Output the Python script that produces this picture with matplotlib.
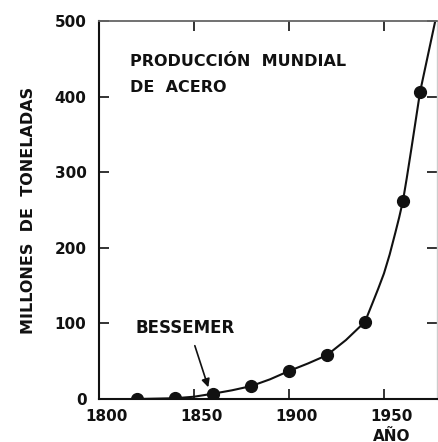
import numpy as np
import matplotlib
matplotlib.use("Agg")
import matplotlib.pyplot as plt
from matplotlib.transforms import ScaledTranslation, blended_transform_factory

# measured points (year, million tonnes)
years = [1820, 1840, 1860, 1880, 1900, 1920, 1940, 1960, 1969]
prod = [0, 1, 7, 17, 37, 58, 102, 262, 406]

# the drawn curve
curve_years = [1820, 1840, 1850, 1860, 1870, 1880, 1890, 1900, 1910, 1920,
               1930, 1940, 1944, 1947, 1950, 1953, 1956, 1958, 1960, 1962,
               1964.5, 1969, 1973, 1977]
curve_prod = [0, 1, 3, 7, 11.5, 17, 26, 37, 47, 58,
              78, 102, 127, 146, 166, 191, 220, 240, 262, 292,
              332, 406, 453, 500]

xticks = [1800, 1850, 1900, 1950]
yticks = [0, 100, 200, 300, 400, 500]

plt.rcParams['font.family'] = ['DejaVu Sans']
plt.rcParams['font.weight'] = 'bold'
ink = '#111111'

fig = plt.figure(figsize=(4.38, 4.42), dpi=100)
ax = fig.add_axes([0.226, 0.0973, 0.772, 0.855])

ax.plot(curve_years, curve_prod, color=ink, lw=1.5, solid_joinstyle='round')
ax.plot(years, prod, 'o', color=ink, ms=8.5)

ax.set_xlim(1800, 1978)
ax.set_ylim(0, 500)
ax.set_xticks(xticks)
ax.set_yticks(yticks)
ax.tick_params(direction='in', length=7, width=1.2, colors=ink,
               top=True, right=True, labelsize=11)
ax.tick_params(axis='y', pad=9)
ax.tick_params(axis='x', pad=7)
off = ScaledTranslation(8 / 100, 0, fig.dpi_scale_trans)
for lbl in ax.get_xticklabels():
    lbl.set_transform(lbl.get_transform() + off)

for s in ['left', 'bottom']:
    ax.spines[s].set_linewidth(1.5)
    ax.spines[s].set_color(ink)
ax.spines['top'].set_linewidth(1.3)
ax.spines['top'].set_color('#666666')
ax.spines['right'].set_linewidth(1.0)
ax.spines['right'].set_color('#cccccc')

ax.set_ylabel('MILLONES  DE  TONELADAS', fontsize=11.5, fontweight='bold',
              color=ink, labelpad=13)

ax.text(0.092, 0.892, 'PRODUCCIÓN  MUNDIAL', transform=ax.transAxes,
        fontsize=11.5, fontweight='bold', color=ink, va='center')
ax.text(0.092, 0.825, 'DE  ACERO', transform=ax.transAxes,
        fontsize=11.5, fontweight='bold', color=ink, va='center')

ax.text(1819, 94, 'BESSEMER', fontsize=12, fontweight='bold', color=ink,
        va='center')
ax.annotate('', xy=(1858, 12), xytext=(1850, 74),
            arrowprops=dict(arrowstyle='-|>', color=ink, lw=1.2,
                            mutation_scale=12))

tr = blended_transform_factory(ax.transData, ax.transAxes)
ax.text(1954, -0.098, 'AÑO', transform=tr, fontsize=11, fontweight='bold',
        color=ink, ha='center', va='center')

fig.savefig('out.png', dpi=100)
